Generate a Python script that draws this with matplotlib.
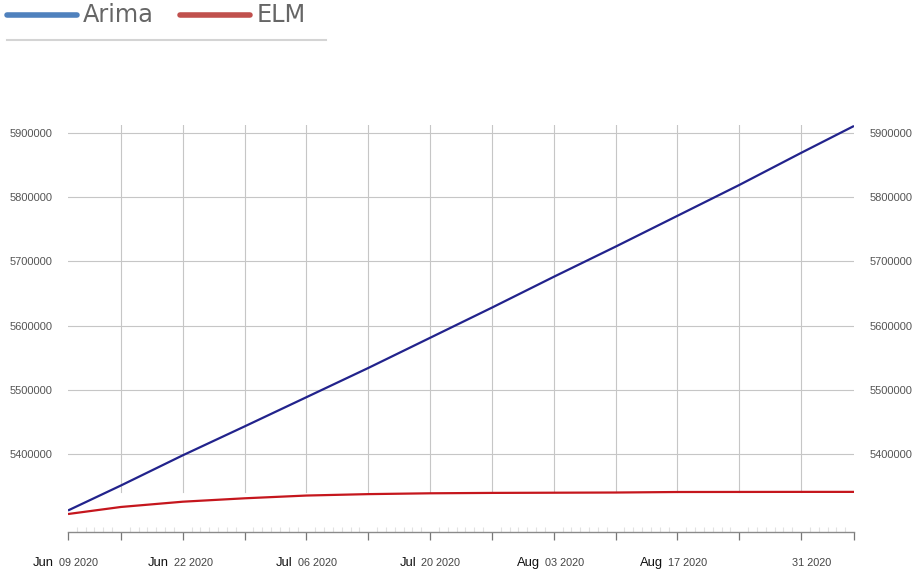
import datetime as dt
import matplotlib
matplotlib.use("Agg")
import matplotlib.pyplot as plt
import matplotlib.dates as mdates
from matplotlib.lines import Line2D

# Weekly forecast values (Arima vs ELM)
dates = ["2020-06-09", "2020-06-15", "2020-06-22", "2020-06-29", "2020-07-06",
         "2020-07-13", "2020-07-20", "2020-07-27", "2020-08-03", "2020-08-10",
         "2020-08-17", "2020-08-24", "2020-08-31", "2020-09-06"]
arima = [5312000, 5351000, 5398000, 5443000, 5488500, 5534000, 5581000,
         5628000, 5676000, 5723000, 5771000, 5819000, 5869000, 5911000]
elm = [5306500, 5317500, 5325700, 5331000, 5335300, 5337500, 5338800,
       5339400, 5339700, 5340000, 5340800, 5340900, 5341000, 5341000]

series_names = ["Arima", "ELM"]
y_ticks = [5400000, 5500000, 5600000, 5700000, 5800000, 5900000]
label_dates = ["2020-06-09", "2020-06-22", "2020-07-06", "2020-07-20",
               "2020-08-03", "2020-08-17", "2020-08-31"]
label_months = ["Jun", "Jun", "Jul", "Jul", "Aug", "Aug", ""]
label_rest = ["09 2020", "22 2020", "06 2020", "20 2020", "03 2020", "17 2020", "31 2020"]

x = [dt.datetime.strptime(d, "%Y-%m-%d") for d in dates]
xl = [dt.datetime.strptime(d, "%Y-%m-%d") for d in label_dates]

plt.rcParams["font.family"] = ["Liberation Sans", "DejaVu Sans"]

W, H = 920, 573
fig = plt.figure(figsize=(W / 100, H / 100), dpi=100)
ax = fig.add_axes([68 / W, (H - 532) / H, 786 / W, 407 / H])

ax.plot(x, arima, color="#22238c", lw=1.6, solid_capstyle="butt", zorder=3)
ax.plot(x, elm, color="#c5161d", lw=1.6, solid_capstyle="butt", zorder=3)

ax.set_xlim(x[0], x[-1])
ax.set_ylim(5278500, 5912500)

# grid: horizontal across the full width, vertical weekly lines above the ELM floor
for v in y_ticks:
    ax.axhline(v, color="#c6c6c6", lw=0.8, zorder=1)
ymin_frac = (elm[-1] - 5278500) / (5912500 - 5278500)
for d in x[1:-1]:
    ax.axvline(d, ymin=ymin_frac, ymax=1, color="#c6c6c6", lw=0.8, zorder=1)

for s in ["left", "right", "top"]:
    ax.spines[s].set_visible(False)
ax.spines["bottom"].set_color("#8a8a8a")
ax.spines["bottom"].set_linewidth(1.0)

ax.set_yticks(y_ticks)
ax.set_yticklabels([str(v) for v in y_ticks])
ax.tick_params(axis="y", length=0, labelsize=8, labelcolor="#555555",
               labelleft=True, labelright=True, pad=11)

ax.set_xticks(x)
ax.set_xticklabels([])
ax.xaxis.set_minor_locator(mdates.DayLocator())
ax.tick_params(axis="x", which="major", direction="out", length=5.5,
               color="#777777", width=0.9)
ax.tick_params(axis="x", which="minor", direction="in", length=3.5,
               color="#e2e2e2", width=0.8)

for d, m, r in zip(xl, label_months, label_rest):
    ax.annotate(r, xy=(d, 0), xycoords=("data", "axes fraction"),
                xytext=(7.6, -24.5), textcoords="offset points",
                ha="center", va="baseline", fontsize=7.8, color="#444444")
    if m:
        ax.annotate(m, xy=(d, 0), xycoords=("data", "axes fraction"),
                    xytext=(-10, -24.2), textcoords="offset points",
                    ha="right", va="baseline", fontsize=9.4, color="#111111")

# legend strip at the top
legend_colors = ["#4f81bd", "#c0504d"]
line_spans = [(7, 77), (180, 250)]
text_x = [83, 257]
for name, c, (a, b), tx in zip(series_names, legend_colors, line_spans, text_x):
    fig.add_artist(Line2D([a / W, b / W], [1 - 15 / H, 1 - 15 / H], color=c,
                          lw=4.0, solid_capstyle="round",
                          transform=fig.transFigure))
    fig.text(tx / W, 1 - 15 / H, name, fontsize=17.3, color="#666666",
             family="DejaVu Sans", ha="left", va="center")
fig.add_artist(Line2D([7 / W, 326 / W], [1 - 40 / H, 1 - 40 / H], color="#d4d4d4",
                      lw=1.5, transform=fig.transFigure))

fig.savefig("out.png", dpi=100)
